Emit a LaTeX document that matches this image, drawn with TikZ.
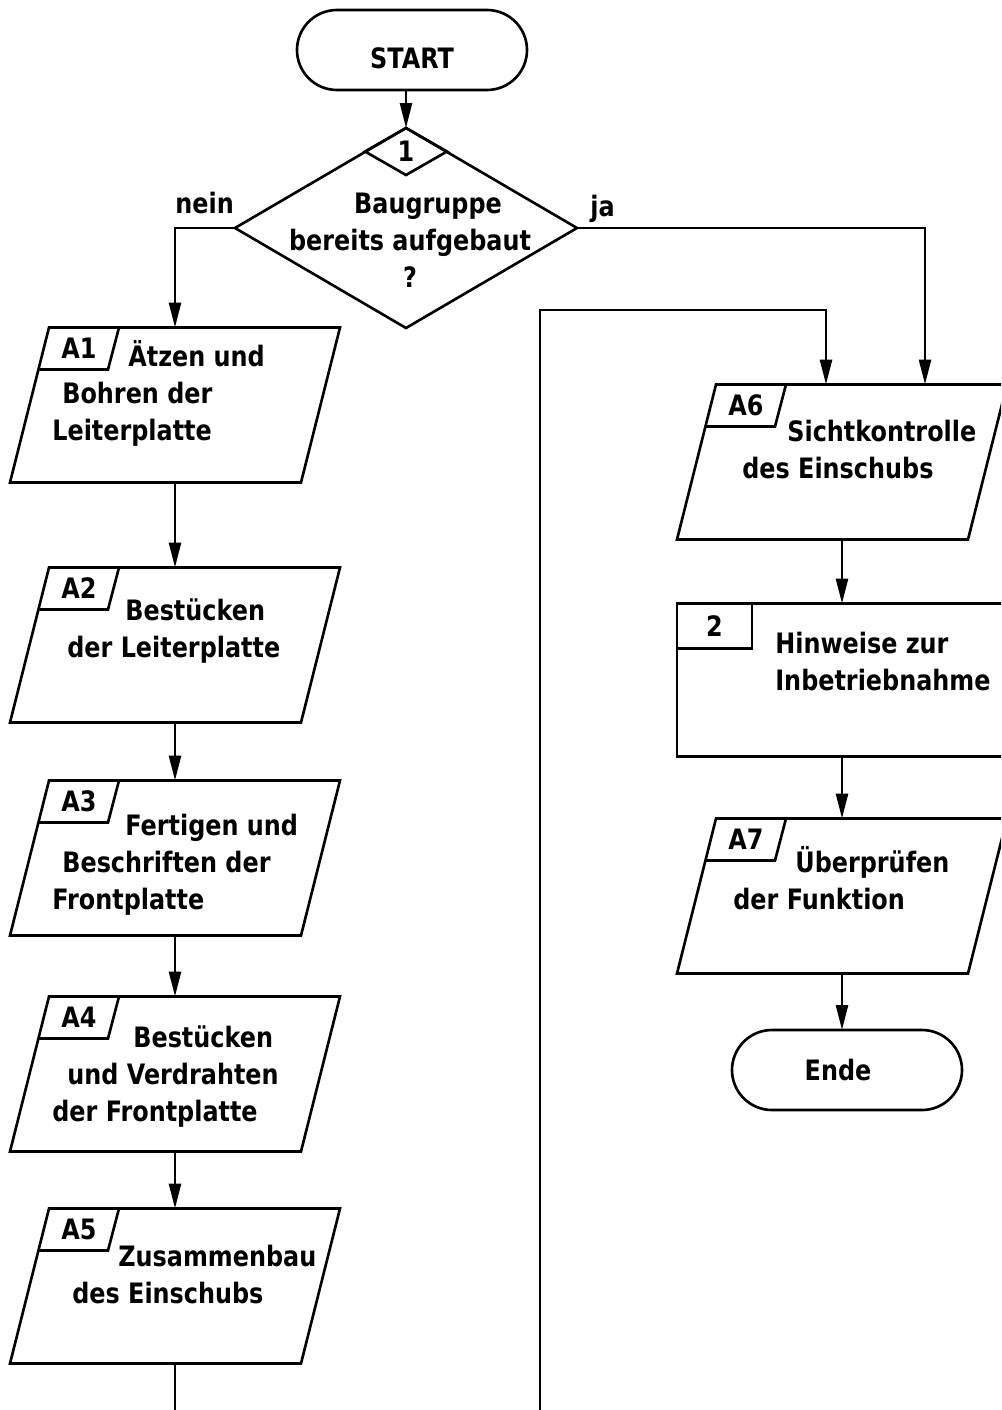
\documentclass[tikz,border=0pt]{standalone}
\usepackage{fontspec}
\setmainfont{DejaVu Sans}[FakeStretch=0.85]
\usepackage{tikz}
\usetikzlibrary{shapes.geometric,shapes.misc,arrows.meta}

\newdimen\px
\px=0.02cm

\tikzstyle{txt} = [font=\fontsize{16}{21}\selectfont\bfseries, inner sep=0pt]
\tikzstyle{arrow} = [line width=1.5pt,-{Triangle[length=0.5cm,width=0.24cm]}]
\tikzstyle{line} = [line width=1.5pt]
\tikzstyle{terminal} = [draw, line width=1.5pt, rounded rectangle, outer sep=0pt,
  minimum width=230*\px, minimum height=80*\px, txt]
\tikzstyle{stepbox} = [outer sep=0pt, inner sep=0pt,
  minimum width=330*\px, minimum height=155*\px]
\tikzstyle{steptext} = [txt, align=left, anchor=base west]

\begin{document}
\begin{tikzpicture}[x=0.02cm,y=-0.02cm]
\useasboundingbox (0,0) rectangle (1001,1410);
\clip (0,0) rectangle (1001,1410);

% start and question
\node[terminal, text height=21pt] (start) at (412,50) {START};
\node[draw, line width=1.5pt, diamond, inner sep=0pt, outer sep=0pt,
  minimum width=342*\px, minimum height=200*\px] (dec) at (406,228) {};
\node[draw, line width=1.5pt, diamond, inner sep=0pt, outer sep=0pt,
  minimum width=82*\px, minimum height=47*\px, anchor=north, txt] (q1) at (dec.north) {1};
\node[txt, align=center, anchor=base] (qtxt) at (410,287)
  {\hspace*{36\px}Baugruppe\\bereits aufgebaut\\?};
\node[txt, anchor=base west] (nein) at (175,213) {nein};
\node[txt, anchor=base west] (ja) at (590,216) {ja};

% left column
\node[stepbox] (a1) at (175,405) {};
\node[stepbox] (a2) at (175,645) {};
\node[stepbox] (a3) at (175,858) {};
\node[stepbox] (a4) at (175,1074) {};
\node[stepbox] (a5) at (175,1286) {};

% right column
\node[stepbox] (a6) at (842,462) {};
\node[stepbox] (a7) at (842,896) {};

% parallelogram outlines and number fields
\foreach \n in {1,...,7}{
  \draw[line] ([shift={(39,0)}]a\n.north west) -- (a\n.north east)
    -- ([shift={(-39,0)}]a\n.south east) -- (a\n.south west) -- cycle;
  \draw[line] ([shift={(109,0)}]a\n.north west) -- ([shift={(98,42)}]a\n.north west)
    -- ([shift={(28,42)}]a\n.north west);
  \node[txt] (n\n) at ([shift={(69,21)}]a\n.north west) {A\n};
}

\node[steptext] (t1) at (52,440)
  {\hspace*{76\px}Ätzen und\\\hspace*{10\px}Bohren der\\Leiterplatte};
\node[steptext] (t2) at (67,657)
  {\hspace*{58\px}Bestücken\\der Leiterplatte};
\node[steptext] (t3) at (52,909)
  {\hspace*{73\px}Fertigen und\\\hspace*{10\px}Beschriften der\\Frontplatte};
\node[steptext] (t4) at (52,1121)
  {\hspace*{81\px}Bestücken\\\hspace*{15\px}und Verdrahten\\der Frontplatte};
\node[steptext] (t5) at (72,1303)
  {\hspace*{46\px}Zusammenbau\\des Einschubs};
\node[steptext] (t6) at (742,478)
  {\hspace*{45\px}Sichtkontrolle\\des Einschubs};
\node[steptext] (t7) at (733,909)
  {\hspace*{62\px}Überprüfen\\der Funktion};

\node[draw, line width=1.5pt, outer sep=0pt, minimum width=330*\px,
  minimum height=153*\px] (b2) at (842,680) {};
\node[draw, line width=1.5pt, outer sep=0pt, minimum width=75*\px,
  minimum height=45*\px, anchor=north west, txt] (n2) at (b2.north west) {2};
\node[steptext] (tb2) at (775,690)
  {Hinweise zur\\Inbetriebnahme};

\node[terminal] (ende) at (847,1070) {Ende\hspace*{18\px}};

% connectors
\coordinate (jaend) at (925,228);
\coordinate (lbot) at (175,1425);
\coordinate (rbot) at (540,1425);
\coordinate (rtop) at (540,310);
\coordinate (rin) at (826,310);

\draw[arrow] (start.south -| dec.north) -- (dec.north);
\draw[arrow] (dec.west) -| (a1.north);
\draw[arrow] (dec.east) -- (jaend) -- (jaend |- a6.north);
\foreach \i/\j in {1/2,2/3,3/4,4/5}
  \draw[arrow] (a\i.south) -- (a\j.north);
\draw[arrow] (a5.south) -- (lbot) -- (rbot) -- (rtop) -- (rin) -- (rin |- a6.north);
\draw[arrow] (a6.south) -- (b2.north);
\draw[arrow] (b2.south) -- (a7.north);
\draw[arrow] (a7.south) -- (a7.south |- ende.north);
\end{tikzpicture}
\end{document}
